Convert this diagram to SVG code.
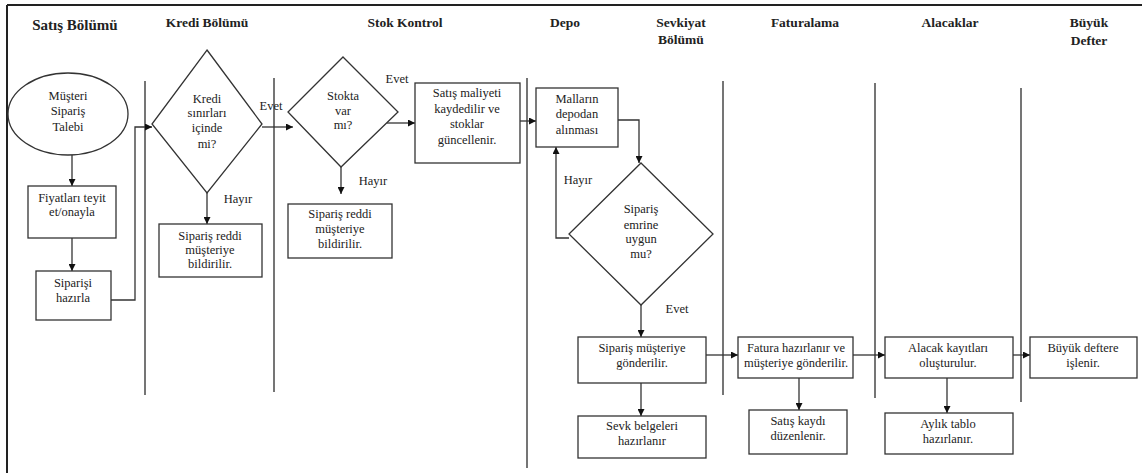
<svg xmlns="http://www.w3.org/2000/svg" width="1142" height="473" viewBox="0 0 1142 473">
  <style>
    .hdr { font-family: 'Liberation Serif', 'Times New Roman', Times, 'DejaVu Serif', serif; font-weight: bold; font-size: 13.5px; fill: #222; text-anchor: middle; }
    .txt { font-family: 'Liberation Serif', 'Times New Roman', Times, 'DejaVu Serif', serif; font-size: 12.5px; fill: #222; text-anchor: middle; }
    .shape { fill: #fff; stroke: #333; stroke-width: 1.3; }
    .lane { stroke: #666; stroke-width: 1.8; }
    .edge { fill: none; stroke: #333; stroke-width: 1.3; marker-end: url(#arrow); }
  </style>
  <defs>
    <marker id="arrow" viewBox="0 0 10 10" refX="10" refY="5" markerWidth="7" markerHeight="7" markerUnits="userSpaceOnUse" orient="auto">
      <path d="M0,0 L10,5 L0,10 z" fill="#111"/>
    </marker>
  </defs>

  <rect width="1142" height="473" fill="#fff"/>

  <!-- frame -->
  <g id="frame" stroke="#222" stroke-width="2" fill="none">
    <line x1="7" y1="5" x2="1142" y2="5"/>
    <line x1="7" y1="5" x2="7" y2="473"/>
  </g>

  <!-- lane headers -->
  <g id="headers">
    <text class="hdr" x="75" y="30" style="font-size:15px">Satış Bölümü</text>
    <text class="hdr" x="207" y="27">Kredi Bölümü</text>
    <text class="hdr" x="405" y="27">Stok Kontrol</text>
    <text class="hdr" x="565" y="27">Depo</text>
    <text class="hdr" x="681" y="27">Sevkiyat</text>
    <text class="hdr" x="681" y="44">Bölümü</text>
    <text class="hdr" x="805" y="27">Faturalama</text>
    <text class="hdr" x="950" y="27">Alacaklar</text>
    <text class="hdr" x="1089" y="27">Büyük</text>
    <text class="hdr" x="1089" y="45">Defter</text>
  </g>

  <!-- lane separators -->
  <g id="lanes">
    <line class="lane" x1="145" y1="81" x2="145" y2="395"/>
    <line class="lane" x1="274" y1="78" x2="274" y2="392"/>
    <line class="lane" x1="527" y1="78" x2="527" y2="468"/>
    <line class="lane" x1="723" y1="81" x2="723" y2="395"/>
    <line class="lane" x1="875" y1="83" x2="875" y2="398"/>
    <line class="lane" x1="1021" y1="88" x2="1021" y2="402"/>
  </g>

  <!-- connectors -->
  <g id="connectors">
    <path class="edge" d="M72,155 L72,186"/>
    <path class="edge" d="M72,238 L72,271"/>
    <path class="edge" d="M111,300 L135,300 L135,127 L152,127"/>
    <path class="edge" d="M207,193 L207,224"/>
    <path class="edge" d="M262,127 L293,127"/>
    <path class="edge" d="M341,167 L341,194"/>
    <path class="edge" d="M387,123 L415,123"/>
    <path class="edge" d="M520,121 L536,121"/>
    <path class="edge" d="M618,120 L639,120 L639,163"/>
    <path class="edge" d="M569,238 L556,238 L556,147"/>
    <path class="edge" d="M641,305 L641,337"/>
    <path class="edge" d="M641,383 L641,416"/>
    <path class="edge" d="M706,355 L738,355"/>
    <path class="edge" d="M799,378 L799,410"/>
    <path class="edge" d="M853,355 L885,355"/>
    <path class="edge" d="M947,378 L947,413"/>
    <path class="edge" d="M1013,355 L1030,355"/>
    <text class="txt" x="271" y="110">Evet</text>
    <text class="txt" x="238" y="203">Hayır</text>
    <text class="txt" x="397" y="83">Evet</text>
    <text class="txt" x="373" y="185">Hayır</text>
    <text class="txt" x="578" y="184">Hayır</text>
    <text class="txt" x="677" y="313">Evet</text>
  </g>

  <!-- nodes -->
  <g id="n-talep">
    <ellipse class="shape" cx="68" cy="114" rx="60" ry="41"/>
    <text class="txt" x="68" y="100">Müşteri</text>
    <text class="txt" x="68" y="115">Sipariş</text>
    <text class="txt" x="68" y="131">Talebi</text>
  </g>
  <g id="n-fiyat">
    <rect class="shape" x="28" y="186" width="88" height="52"/>
    <text class="txt" x="72" y="202">Fiyatları teyit</text>
    <text class="txt" x="72" y="216">et/onayla</text>
  </g>
  <g id="n-hazirla">
    <rect class="shape" x="36" y="271" width="75" height="49"/>
    <text class="txt" x="73" y="287">Siparişi</text>
    <text class="txt" x="73" y="302">hazırla</text>
  </g>
  <g id="n-kredi">
    <polygon class="shape" points="207,50 262,124 207,193 152,124"/>
    <text class="txt" x="207" y="103">Kredi</text>
    <text class="txt" x="207" y="117">sınırları</text>
    <text class="txt" x="207" y="132">içinde</text>
    <text class="txt" x="207" y="148">mi?</text>
  </g>
  <g id="n-red1">
    <rect class="shape" x="159" y="224" width="103" height="53"/>
    <text class="txt" x="210" y="240">Sipariş reddi</text>
    <text class="txt" x="210" y="254">müşteriye</text>
    <text class="txt" x="210" y="268">bildirilir.</text>
  </g>
  <g id="n-stok">
    <polygon class="shape" points="343,57 398,112 341,167 288,112"/>
    <text class="txt" x="343" y="100">Stokta</text>
    <text class="txt" x="343" y="115">var</text>
    <text class="txt" x="343" y="129">mı?</text>
  </g>
  <g id="n-red2">
    <rect class="shape" x="288" y="204" width="104" height="54"/>
    <text class="txt" x="340" y="218">Sipariş reddi</text>
    <text class="txt" x="340" y="233">müşteriye</text>
    <text class="txt" x="340" y="248">bildirilir.</text>
  </g>
  <g id="n-maliyet">
    <rect class="shape" x="415" y="83" width="105" height="80"/>
    <text class="txt" x="467" y="97">Satış maliyeti</text>
    <text class="txt" x="467" y="113">kaydedilir ve</text>
    <text class="txt" x="467" y="128">stoklar</text>
    <text class="txt" x="467" y="144">güncellenir.</text>
  </g>
  <g id="n-mallar">
    <rect class="shape" x="536" y="88" width="82" height="59"/>
    <text class="txt" x="577" y="103">Malların</text>
    <text class="txt" x="577" y="118">depodan</text>
    <text class="txt" x="577" y="134">alınması</text>
  </g>
  <g id="n-uygun">
    <polygon class="shape" points="641,163 713,234 641,305 569,234"/>
    <text class="txt" x="641" y="213">Sipariş</text>
    <text class="txt" x="641" y="229">emrine</text>
    <text class="txt" x="641" y="243">uygun</text>
    <text class="txt" x="641" y="258">mu?</text>
  </g>
  <g id="n-gonder">
    <rect class="shape" x="578" y="337" width="128" height="46"/>
    <text class="txt" x="642" y="352">Sipariş müşteriye</text>
    <text class="txt" x="642" y="367">gönderilir.</text>
  </g>
  <g id="n-sevk">
    <rect class="shape" x="578" y="416" width="128" height="42"/>
    <text class="txt" x="642" y="430">Sevk belgeleri</text>
    <text class="txt" x="642" y="445">hazırlanır</text>
  </g>
  <g id="n-fatura">
    <rect class="shape" x="738" y="337" width="115" height="41"/>
    <text class="txt" x="796" y="352">Fatura hazırlanır ve</text>
    <text class="txt" x="796" y="367">müşteriye gönderilir.</text>
  </g>
  <g id="n-satis">
    <rect class="shape" x="749" y="410" width="98" height="44"/>
    <text class="txt" x="798" y="425">Satış kaydı</text>
    <text class="txt" x="798" y="440">düzenlenir.</text>
  </g>
  <g id="n-alacak">
    <rect class="shape" x="885" y="337" width="128" height="41"/>
    <text class="txt" x="948" y="352">Alacak kayıtları</text>
    <text class="txt" x="948" y="367">oluşturulur.</text>
  </g>
  <g id="n-aylik">
    <rect class="shape" x="885" y="413" width="128" height="41"/>
    <text class="txt" x="948" y="428">Aylık tablo</text>
    <text class="txt" x="948" y="443">hazırlanır.</text>
  </g>
  <g id="n-buyuk">
    <rect class="shape" x="1030" y="337" width="107" height="41"/>
    <text class="txt" x="1083" y="352">Büyük deftere</text>
    <text class="txt" x="1083" y="367">işlenir.</text>
  </g>
</svg>
